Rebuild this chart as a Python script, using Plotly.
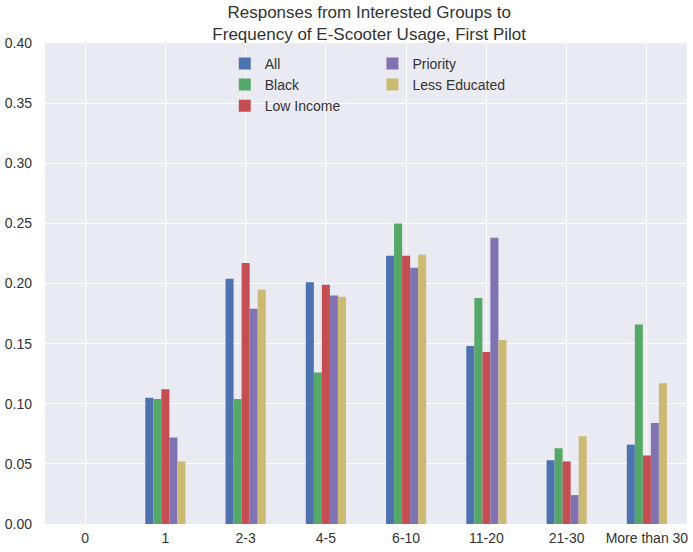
import plotly.graph_objects as go

# Frequency buckets (number of e-scooter trips)
categories = ["0", "1", "2-3", "4-5", "6-10", "11-20", "21-30", "More than 30"]

# Share of respondents in each group
all_resp = [0.0, 0.105, 0.204, 0.201, 0.223, 0.148, 0.053, 0.066]
black = [0.0, 0.104, 0.104, 0.126, 0.250, 0.188, 0.063, 0.166]
low_income = [0.0, 0.112, 0.217, 0.199, 0.223, 0.143, 0.052, 0.057]
priority = [0.0, 0.072, 0.179, 0.190, 0.213, 0.238, 0.024, 0.084]
less_educated = [0.0, 0.052, 0.195, 0.189, 0.224, 0.153, 0.073, 0.117]

series = [
    ("All", all_resp, "#4C72B0", "legend"),
    ("Black", black, "#55A868", "legend"),
    ("Low Income", low_income, "#C44E52", "legend"),
    ("Priority", priority, "#8172B2", "legend2"),
    ("Less Educated", less_educated, "#CCB974", "legend2"),
]

TEXT = "#333333"
FONT = "Liberation Sans, Arial, sans-serif"

fig = go.Figure()
for name, vals, color, leg in series:
    fig.add_trace(go.Bar(
        x=categories, y=vals, name=name, legend=leg,
        marker=dict(color=color, line=dict(width=0)),
    ))

fig.update_layout(
    width=693, height=552,
    margin=dict(l=43, r=5, t=43, b=28),
    paper_bgcolor="white",
    plot_bgcolor="#EAEAF2",
    font=dict(family=FONT, size=14, color=TEXT),
    barmode="group",
    bargap=0.5,
    bargroupgap=0,
    title=dict(
        text="Responses from Interested Groups to<br>Frequency of E-Scooter Usage, First Pilot",
        font=dict(size=17, color=TEXT),
        x=0.505, xref="paper", xanchor="center",
        y=1 - 18 / 552, yref="container", yanchor="top",
    ),
    legend=dict(
        x=0.28, y=0.99, xanchor="left", yanchor="top",
        bgcolor="rgba(0,0,0,0)", font=dict(size=14, color=TEXT),
    ),
    legend2=dict(
        x=0.51, y=0.99, xanchor="left", yanchor="top",
        bgcolor="rgba(0,0,0,0)", font=dict(size=14, color=TEXT),
    ),
    xaxis=dict(
        type="category", range=[-0.5, 7.5],
        showgrid=True, gridcolor="white", gridwidth=1.3,
        showline=False, ticks="", ticklabelstandoff=4,
        tickfont=dict(size=14, color=TEXT),
    ),
    yaxis=dict(
        range=[0, 0.40], dtick=0.05, tickformat=".2f",
        showgrid=True, gridcolor="white", gridwidth=1.3,
        zeroline=False, showline=False, ticks="",
        ticklabelstandoff=12,
        tickfont=dict(size=14, color=TEXT),
    ),
)

fig.write_html("out.html")
